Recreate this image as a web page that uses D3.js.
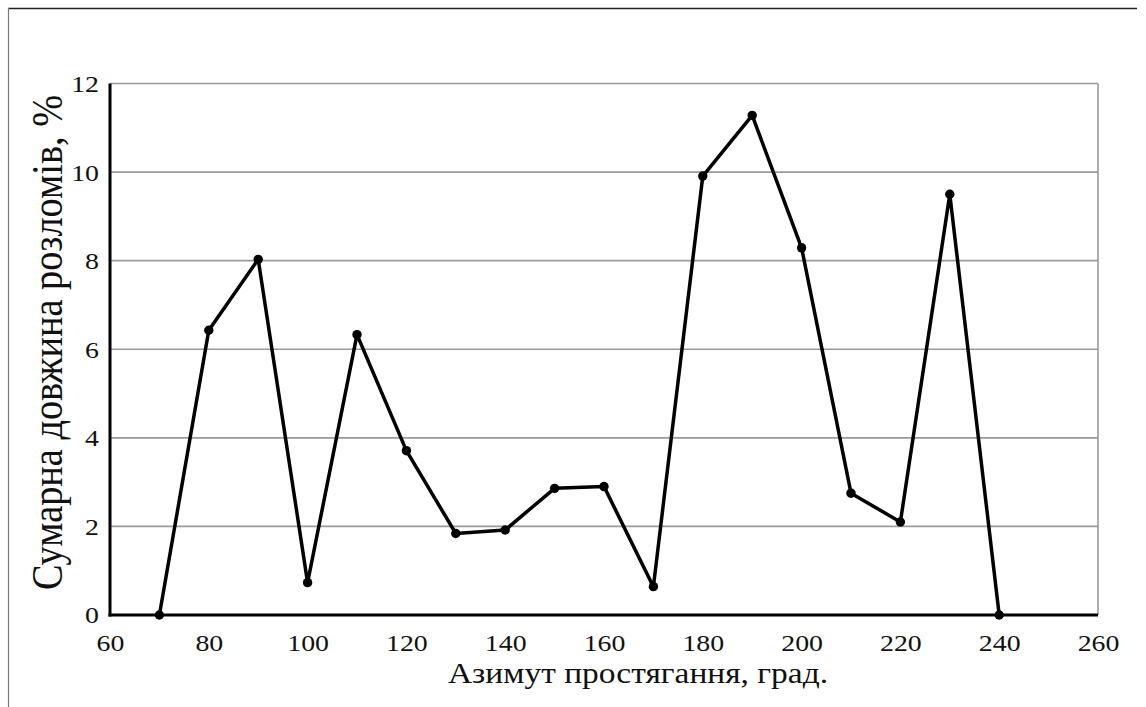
<!DOCTYPE html>
<html>
<head>
<meta charset="utf-8">
<script src="https://cdn.jsdelivr.net/npm/d3@7"></script>
<style>
html,body{margin:0;padding:0;background:#fff;}
svg{display:block;}
</style>
</head>
<body>
<script>
const azimuth = [70, 80, 90, 100, 110, 120, 130, 140, 150, 160, 170, 180, 190, 200, 210, 220, 230, 240];
const faultLength = [0, 6.43, 8.03, 0.73, 6.33, 3.71, 1.84, 1.92, 2.86, 2.90, 0.64, 9.91, 11.28, 8.29, 2.75, 2.10, 9.50, 0];
const xTicks = [60, 80, 100, 120, 140, 160, 180, 200, 220, 240, 260];
const yTicks = [0, 2, 4, 6, 8, 10, 12];
const xTitle = "Азимут простягання, град.";
const yTitle = "Сумарна довжина розломів, %";

const FONT = "Liberation Serif";
const SX = 1.16; // horizontal stretch of the reference glyphs
const W = 1146, H = 707;
const m = {left: 110, right: 1098, top: 83.5, bottom: 615};
const svg = d3.select("body").append("svg").attr("width", W).attr("height", H);

// outer frame (top and left only)
svg.append("line").attr("x1", 8).attr("x2", 1137).attr("y1", 8.5).attr("y2", 8.5)
  .attr("stroke", "#222").attr("stroke-width", 1.5);
svg.append("line").attr("x1", 8.5).attr("x2", 8.5).attr("y1", 8).attr("y2", H)
  .attr("stroke", "#777").attr("stroke-width", 1.2);

const x = d3.scaleLinear().domain([60, 260]).range([m.left, m.right]);
const y = d3.scaleLinear().domain([0, 12]).range([m.bottom, m.top]);

// gridlines
svg.append("g").selectAll("line").data(yTicks.filter(d => d > 0)).join("line")
  .attr("x1", m.left).attr("x2", m.right)
  .attr("y1", d => y(d)).attr("y2", d => y(d))
  .attr("stroke", "#9a9a9a").attr("stroke-width", 1.6);
// right plot border
svg.append("line").attr("x1", m.right).attr("x2", m.right)
  .attr("y1", m.top).attr("y2", m.bottom)
  .attr("stroke", "#9a9a9a").attr("stroke-width", 1.6);

// axes
const xAxis = d3.axisBottom(x).tickValues(xTicks).tickSize(0);
const yAxis = d3.axisLeft(y).tickValues(yTicks).tickSize(0);
const gx = svg.append("g").attr("transform", `translate(0,${m.bottom})`).call(xAxis);
const gy = svg.append("g").attr("transform", `translate(${m.left},0)`).call(yAxis);
[gx, gy].forEach(g => {
  g.attr("font-family", FONT).attr("font-size", 24).style("font-family", FONT);
  g.select(".domain").attr("stroke", "#000").attr("stroke-width", 3);
  g.selectAll("text")
    .attr("font-family", FONT).attr("font-size", 24)
    .style("font-family", FONT).style("font-size", "24px")
    .attr("fill", "#111");
});
gx.selectAll("text").attr("x", 0).attr("y", 36).attr("dy", null)
  .attr("transform", `scale(${SX},1)`);
gy.selectAll("text").attr("x", -11 / SX).attr("dy", "0.33em")
  .attr("transform", `scale(${SX},1)`);
gx.select(".domain").attr("d", `M${m.left - 1.5},0H${m.right}`);
gy.select(".domain").attr("d", `M0,${m.top}V${m.bottom + 1.5}`);

// line
const line = d3.line().x((d, i) => x(azimuth[i])).y(d => y(d));
svg.append("path").datum(faultLength).attr("d", line)
  .attr("fill", "none").attr("stroke", "#000").attr("stroke-width", 3.5)
  .attr("stroke-linejoin", "round");
svg.append("g").selectAll("circle").data(faultLength).join("circle")
  .attr("cx", (d, i) => x(azimuth[i])).attr("cy", d => y(d)).attr("r", 4.7)
  .attr("fill", "#000");

// titles, sized to the reference extents
function fitText(sel, target) {
  sel.style("font-size", "30px");
  const len = sel.node().getComputedTextLength();
  sel.style("font-size", (30 * target / len) + "px");
}
const xt = svg.append("text")
  .attr("transform", `translate(638,683) scale(${SX},1)`)
  .attr("text-anchor", "middle").attr("font-family", FONT).style("font-family", FONT)
  .attr("fill", "#111").text(xTitle);
fitText(xt, 380 / SX);
const yt = svg.append("text")
  .attr("transform", `translate(62,342.5) scale(${SX},1) rotate(-90)`)
  .attr("text-anchor", "middle").attr("font-family", FONT).style("font-family", FONT)
  .attr("fill", "#111").text(yTitle);
fitText(yt, 495);
</script>
</body>
</html>
